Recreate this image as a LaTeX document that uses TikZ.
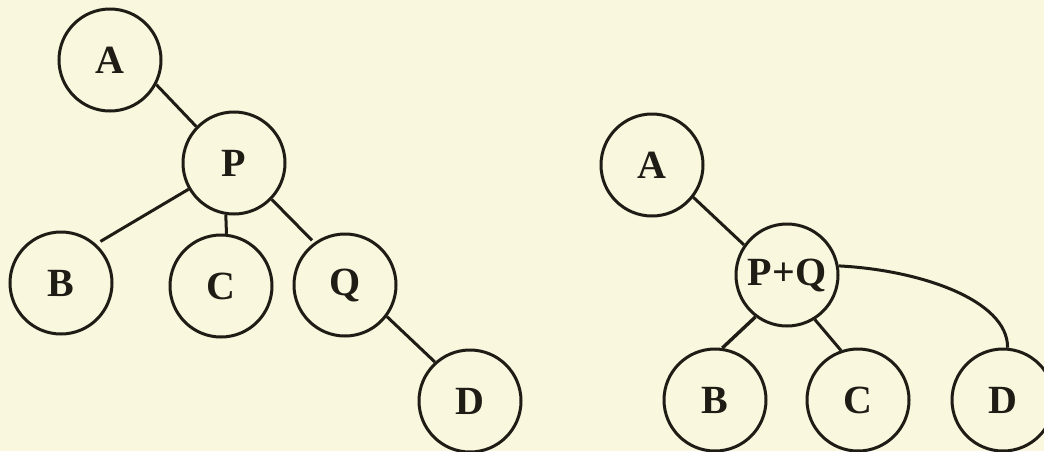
\documentclass[tikz,border=0pt]{standalone}
\usepackage{fontspec}
\setmainfont{Liberation Serif}
\definecolor{bgcol}{RGB}{249,247,222}
\definecolor{ink}{RGB}{30,28,20}
\begin{document}
\begin{tikzpicture}[x=1pt,y=-1pt,
  tnode/.style={circle,draw=ink,line width=3pt,minimum size=102pt,inner sep=0pt,
    font=\fontsize{40}{42}\selectfont\bfseries,text=ink},
  edge/.style={draw=ink,line width=3pt}]
\fill[bgcol] (0,0) rectangle (1044,451);
\useasboundingbox (0,0) rectangle (1044,451);
% left tree
\node[tnode] (A) at (110,60) {A};
\node[tnode] (P) at (234,163) {P};
\node[tnode] (B) at (61,283) {B};
\node[tnode] (C) at (221,286) {C};
\node[tnode] (Q) at (345,285) {Q};
\node[tnode] (D) at (470,401) {D};
\draw[edge] (A.-28) -- (P.136);
\draw[edge,shorten >=5pt] (P.210) -- (B.48);
\draw[edge] (P.261) -- (C.84);
\draw[edge,shorten >=3pt] (P.-44) -- (Q.126);
\draw[edge] (Q.-37) -- (D.132);
% right tree
\node[tnode] (A2) at (652,165) {A};
\node[tnode] (PQ) at (787,275) {P+Q};
\node[tnode] (B2) at (715,400) {B};
\node[tnode] (C2) at (858,400) {C};
\node[tnode] (D2) at (1003,400) {D};
\draw[edge] (A2.-38) -- (PQ.145);
\draw[edge,line width=3.4pt] (PQ.233) -- (B2.82);
\draw[edge] (PQ.302) -- (C2.109);
\draw[edge] (PQ.10) .. controls (920,270) and (1008,300) .. (D2.85);
\end{tikzpicture}
\end{document}
